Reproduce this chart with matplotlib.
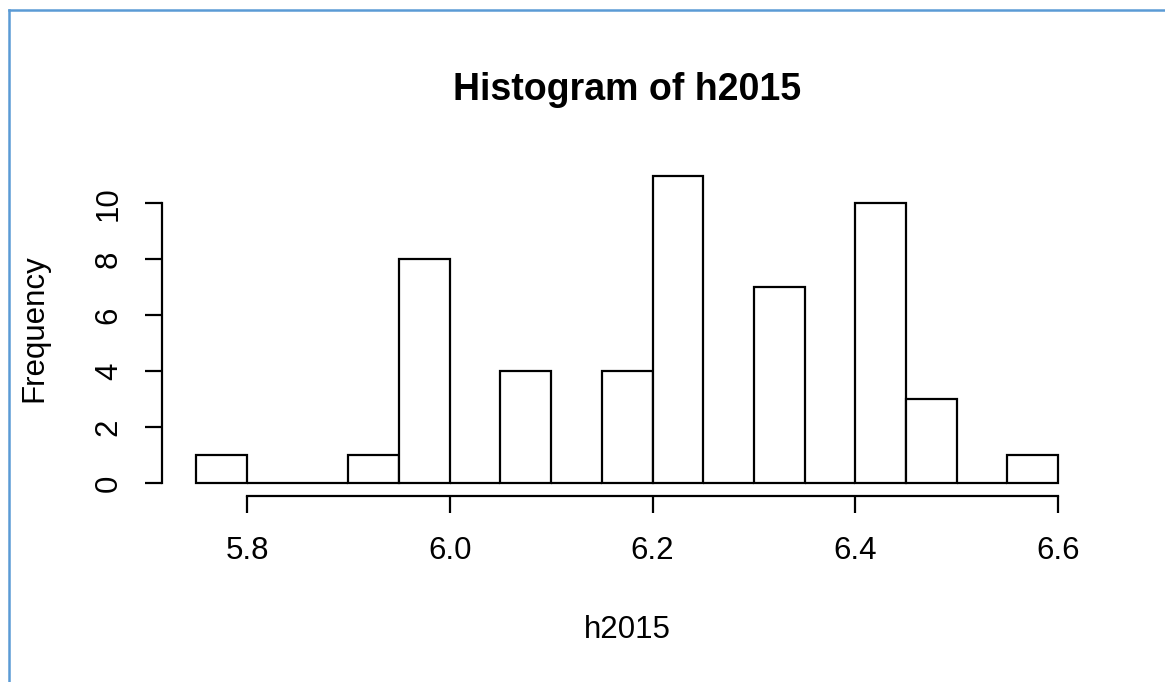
import matplotlib
matplotlib.use("Agg")
import matplotlib.pyplot as plt
from matplotlib.lines import Line2D

plt.rcParams['font.family'] = ['Liberation Sans', 'DejaVu Sans']

# histogram of h2015, bin width 0.05
bin_left = [5.75, 5.80, 5.85, 5.90, 5.95, 6.00, 6.05, 6.10, 6.15,
            6.20, 6.25, 6.30, 6.35, 6.40, 6.45, 6.50, 6.55]
counts = [1, 0, 0, 1, 8, 0, 4, 0, 4, 11, 0, 7, 0, 10, 3, 0, 1]
bin_width = 0.05
xticks = [5.8, 6.0, 6.2, 6.4, 6.6]
yticks = [0, 2, 4, 6, 8, 10]

W, H = 1165, 682
fig = plt.figure(figsize=(W / 100, H / 100), dpi=100)

# axes box in pixels: left 162, right 1080, top 150, bottom 496
ax = fig.add_axes([162 / W, 1 - 496 / H, (1080 - 162) / W, (496 - 150) / H])
ax.bar(bin_left, counts, width=bin_width, align='edge',
       facecolor='white', edgecolor='black', linewidth=1.6)

ax.set_xlim(5.71615, 6.6217)
ax.set_ylim(-0.465, 11.914)

for s in ['top', 'right']:
    ax.spines[s].set_visible(False)
ax.spines['left'].set_bounds(0, 10)
ax.spines['bottom'].set_bounds(5.8, 6.6)
for s in ['left', 'bottom']:
    ax.spines[s].set_linewidth(1.6)

ax.set_xticks(xticks)
ax.set_xticklabels(['%.1f' % v for v in xticks])
ax.set_yticks(yticks)
ax.set_yticklabels([str(v) for v in yticks], rotation=90, va='center')
ax.tick_params(length=12.5, width=1.6, labelsize=22.5)
ax.tick_params(axis='x', pad=16)
ax.tick_params(axis='y', pad=15)

fig.text(627 / W, 1 - 90 / H, 'Histogram of h2015', ha='center', va='center',
         fontsize=27, fontweight='bold')
fig.text(627 / W, 1 - 630 / H, 'h2015', ha='center', va='center', fontsize=22.5)
fig.text(34 / W, 1 - 328 / H, 'Frequency', ha='center', va='center',
         rotation=90, fontsize=22.5)

# blue frame (left and top edges)
blue = '#5b9bd5'
fig.add_artist(Line2D([9 / W, 9 / W], [0, 1 - 10 / H], transform=fig.transFigure,
                      color=blue, linewidth=1.8))
fig.add_artist(Line2D([9 / W, 1], [1 - 10 / H, 1 - 10 / H], transform=fig.transFigure,
                      color=blue, linewidth=1.8))

fig.savefig('out.png', dpi=100)
